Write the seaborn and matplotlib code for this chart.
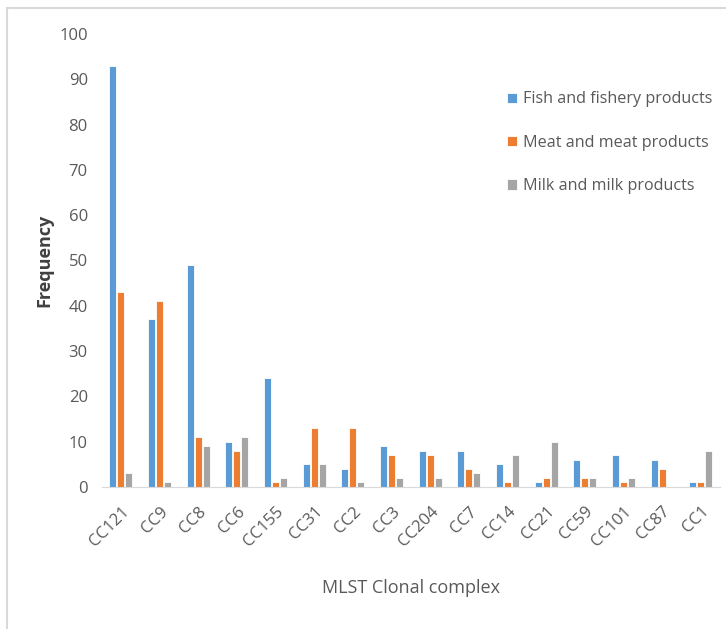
import pandas as pd
import matplotlib.pyplot as plt
import seaborn as sns
from matplotlib.patches import Rectangle

# --------------------- Data ---------------------
complexes = ["CC121", "CC9", "CC8", "CC6", "CC155", "CC31", "CC2", "CC3",
             "CC204", "CC7", "CC14", "CC21", "CC59", "CC101", "CC87", "CC1"]
fish = [93, 37, 49, 10, 24, 5, 4, 9, 8, 8, 5, 1, 6, 7, 6, 1]
meat = [43, 41, 11, 8, 1, 13, 13, 7, 7, 4, 1, 2, 2, 1, 4, 1]
milk = [3, 1, 9, 11, 2, 5, 1, 2, 2, 3, 7, 10, 2, 2, 0, 8]
sources = ["Fish and fishery products", "Meat and meat products", "Milk and milk products"]
colors = ["#5B9BD5", "#ED7D31", "#A5A5A5"]

df = pd.DataFrame({"complex": complexes, sources[0]: fish, sources[1]: meat, sources[2]: milk})
long_df = df.melt(id_vars="complex", var_name="source", value_name="count")

sns.set_style("white")
plt.rcParams['font.family'] = ['Open Sans', 'DejaVu Sans']

fig = plt.figure(figsize=(7.26, 6.29), dpi=100)
ax = fig.add_axes([0.14, 0.226, 0.852, 0.72])

sns.barplot(data=long_df, x="complex", y="count", hue="source", order=complexes,
            hue_order=sources, palette=colors, saturation=1, width=0.62, gap=0.12,
            edgecolor="white", linewidth=0.6, ax=ax)

ax.set_ylim(0, 100)
ax.set_xlim(-0.5, len(complexes) - 0.5)
ax.set_yticks(range(0, 101, 10))
ax.tick_params(axis="y", length=0, labelsize=12, labelcolor="#595959", pad=10)
ax.tick_params(axis="x", length=0, labelsize=12, labelcolor="#595959", pad=12)
plt.setp(ax.get_xticklabels(), rotation=45, ha="right", rotation_mode="anchor")

for side in ["left", "top", "right"]:
    ax.spines[side].set_visible(False)
ax.spines["bottom"].set_color("#D9D9D9")

ax.set_xlabel("MLST Clonal complex", fontsize=13, color="#595959", labelpad=21)
ax.set_ylabel("Frequency", fontsize=13, color="#404040", fontweight="bold", labelpad=4)

ax.legend(loc="upper left", bbox_to_anchor=(0.632, 0.905), frameon=False, fontsize=11.6,
          handlelength=0.6, handleheight=0.6, handletextpad=0.4, labelspacing=1.7,
          labelcolor="#595959")

# thin grey frame round the chart area
fig.patches.append(Rectangle((7 / 726, -0.02), 1.0, 1 - 8 / 629 + 0.02,
                             transform=fig.transFigure, fill=False,
                             edgecolor="#D9D9D9", linewidth=1.5))

fig.savefig("out.png", dpi=100)
